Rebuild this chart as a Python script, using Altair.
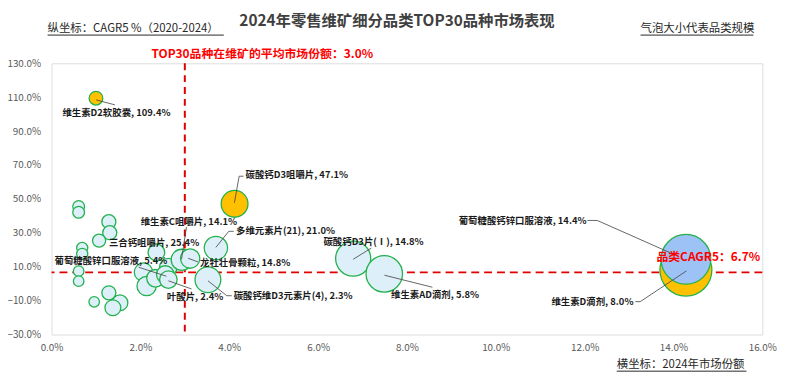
import altair as alt
import pandas as pd

FONT = "Noto Sans CJK SC"

# ---- bubble data ----
names = ["品种14", "品种15", "品种16", "品种17", "品种18", "品种19", "品种20", "品种21",
         "品种22", "品种23", "品种24", "品种25", "品种26", "品种27", "品种28", "品种29", "品种30",
         "维生素D2软胶囊", "碳酸钙D3咀嚼片", "维生素C咀嚼片", "多维元素片(21)", "三合钙咀嚼片",
         "葡萄糖酸锌口服溶液", "龙牡壮骨颗粒", "叶酸片", "碳酸钙维D3元素片(4)", "碳酸钙D3片(Ⅰ)",
         "维生素AD滴剂", "维生素D滴剂", "葡萄糖酸钙锌口服溶液"]
share = [0.61, 0.61, 1.29, 1.31, 0.69, 0.69, 0.61, 0.61,
         2.36, 2.07, 2.14, 0.96, 1.29, 1.54, 1.38, 2.63, 2.34,
         1.00, 4.12, 2.93, 3.70, 1.07,
         2.56, 3.12, 2.63, 3.52, 6.79,
         7.49, 14.28, 14.28]
cagr = [45.5, 42.1, 36.6, 30.1, 21.1, 17.6, 7.4, 1.5,
        18.5, 6.8, -1.4, -10.7, -5.4, -11.3, -14.2, 9.7, 3.2,
        109.4, 47.1, 14.1, 21.0, 25.4,
        5.4, 14.8, 2.4, 2.3, 14.8,
        5.8, 8.0, 14.4]
scale = [45, 45, 64, 64, 40, 40, 36, 36,
         90, 110, 121, 36, 64, 81, 81, 100, 100,
         61, 234, 144, 177, 56,
         100, 121, 100, 216, 400,
         433, 876, 801]
group = ["常规"] * 17 + ["高增长", "高增长", "常规", "常规", "常规",
                         "常规", "常规", "常规", "常规", "常规",
                         "常规", "高增长", "领先"]

# ---- bubble labels ----
label_text = ["维生素D2软胶囊, 109.4%", "碳酸钙D3咀嚼片, 47.1%", "维生素C咀嚼片, 14.1%",
              "多维元素片(21), 21.0%", "三合钙咀嚼片, 25.4%", "葡萄糖酸锌口服溶液, 5.4%",
              "龙牡壮骨颗粒, 14.8%", "叶酸片, 2.4%", "碳酸钙维D3元素片(4), 2.3%",
              "碳酸钙D3片(Ⅰ), 14.8%", "维生素AD滴剂, 5.8%", "葡萄糖酸钙锌口服溶液, 14.4%",
              "维生素D滴剂, 8.0%"]
label_x = [0.245, 4.368, 2.006, 4.152, 1.292, 0.067, 3.343, 2.596, 4.100, 6.121, 7.643, 9.166, 11.253]
label_y = [100.8, 64.0, 36.6, 30.9, 23.7, 13.2, 12.3, -8.1, -7.1, 24.5, -6.5, 37.2, -10.6]

# leader lines (share, cagr) point sequences
leaders = [
    [(1.003, 108.4), (1.426, 105.5)],
    [(4.116, 47.7), (4.223, 63.4), (4.323, 63.4)],
    [(3.037, 33.4), (2.926, 14.4)],
    [(4.100, 30.9), (3.990, 30.9), (3.699, 21.4)],
    [],
    [(1.961, 9.7), (2.585, 4.4)],
    [(3.298, 12.8), (3.075, 15.0)],
    [(3.149, -3.1), (2.630, 1.7)],
    [(4.056, -7.1), (3.944, -7.1), (3.521, 1.7)],
    [(7.198, 21.0), (6.790, 14.4)],
    [(8.573, -2.1), (7.494, 5.0)],
    [(12.062, 37.3), (12.285, 37.3), (13.921, 18.3)],
    [(13.141, -10.6), (13.252, -10.6), (14.291, 7.5)],
]

avg_share = 3.0
cat_cagr = 6.7

x_ticks = [0, 2, 4, 6, 8, 10, 12, 14, 16]
y_ticks = [-30, -10, 10, 30, 50, 70, 90, 110, 130]

W, H = 718, 274

bubbles = pd.DataFrame({"品种": names, "份额": share, "CAGR": cagr, "规模": scale, "组": group})
labels = pd.DataFrame({"文本": label_text, "份额": label_x, "CAGR": label_y})
lead_rows = []
for i, pts in enumerate(leaders):
    for j, (px, py) in enumerate(pts):
        lead_rows.append({"id": i, "seq": j, "份额": px, "CAGR": py})
lead_df = pd.DataFrame(lead_rows)

xs = alt.Scale(domain=[0, 16], nice=False, zero=False)
ys = alt.Scale(domain=[-30, 130], nice=False, zero=False)

x_axis = alt.Axis(values=x_ticks, labelExpr="format(datum.value, '.1f') + '%'", title=None,
                  grid=False, domain=False, ticks=False, labelPadding=8, labelFontSize=10,
                  labelColor="#595959", labelFont=FONT, labelOverlap=False, labelFlush=False,
                  tickCount=9)
y_axis = alt.Axis(values=y_ticks, labelExpr="format(datum.value, '.1f') + '%'", title=None,
                  grid=False, domain=False, ticks=False, labelPadding=11, labelFontSize=10,
                  labelColor="#595959", labelFont=FONT, labelOverlap=False, labelFlush=False,
                  tickCount=9)


def X(field):
    return alt.X(field, scale=xs, axis=x_axis)


def Y(field):
    return alt.Y(field, scale=ys, axis=y_axis)


base_pts = alt.Chart(bubbles).mark_circle(stroke="#22B14C", strokeWidth=1.3, opacity=1).encode(
    x=X("份额:Q"),
    y=Y("CAGR:Q"),
    size=alt.Size("规模:Q", scale=alt.Scale(type="linear", domain=[0, 1000], range=[0, 3141.6]), legend=None),
    color=alt.Color("组:N", scale=alt.Scale(domain=["常规", "高增长", "领先"],
                                           range=["#DDF0FA", "#FFC000", "#9DC3F6"]), legend=None),
)

vline = alt.Chart(pd.DataFrame({"v": [avg_share]})).mark_rule(
    color="#E00000", strokeWidth=2, strokeDash=[7, 5]).encode(x=X("v:Q"))
hline = alt.Chart(pd.DataFrame({"v": [cat_cagr]})).mark_rule(
    color="#E00000", strokeWidth=1.8, strokeDash=[8, 5]).encode(y=Y("v:Q"))

lead = alt.Chart(lead_df).mark_line(color="#404040", strokeWidth=0.8).encode(
    x=X("份额:Q"), y=Y("CAGR:Q"), detail="id:N", order="seq:Q")

lab = alt.Chart(labels).mark_text(align="left", baseline="middle", fontWeight="bold",
                                  fontSize=9.5, font=FONT, color="#1a1a1a").encode(
    x=X("份额:Q"), y=Y("CAGR:Q"), text="文本:N")

one = pd.DataFrame({"k": [0]})


def txt(s, x, y, size, color, weight="normal", align="left", baseline="middle"):
    return alt.Chart(one).mark_text(align=align, baseline=baseline, fontSize=size, font=FONT,
                                    fontWeight=weight, color=color).encode(
        x=alt.value(x), y=alt.value(y), text=alt.value(s))


def uline(x1, x2, y):
    return alt.Chart(one).mark_rule(color="#262626", strokeWidth=1).encode(
        x=alt.value(x1), x2=alt.value(x2), y=alt.value(y))


title = txt("2024年零售维矿细分品类TOP30品种市场表现", 349, -43, 15.5, "#404040", "bold", "center", "middle")
ytitle = txt("纵坐标：CAGR5 %（2020-2024）", -4, -35, 11.5, "#262626")
legend_t = txt("气泡大小代表品类规模", 595, -35, 11.5, "#262626")
xtitle = txt("横坐标：2024年市场份额", 571, 305, 11.5, "#262626")
red1 = txt("TOP30品种在维矿的平均市场份额：3.0%", 101, -9, 12, "#FF0000", "bold")
red2 = txt("品类CAGR5：6.7%", 611, 196, 12, "#FF0000", "bold")

chart = alt.layer(
    vline, hline, base_pts, lead, lab, red1, red2, title, ytitle, legend_t, xtitle,
    uline(-4, 174, -28.5), uline(595, 709, -28.5), uline(571, 702, 311),
).properties(
    width=W, height=H,
    autosize=alt.AutoSizeParams(type="none"),
    padding={"left": 44, "top": 54, "right": 30, "bottom": 38},
).configure_view(stroke=None).configure(font=FONT).configure_axis(labelOverlap=False, labelFlush=False)

chart.save("out.html", embed_options={"renderer": "svg", "actions": False})
